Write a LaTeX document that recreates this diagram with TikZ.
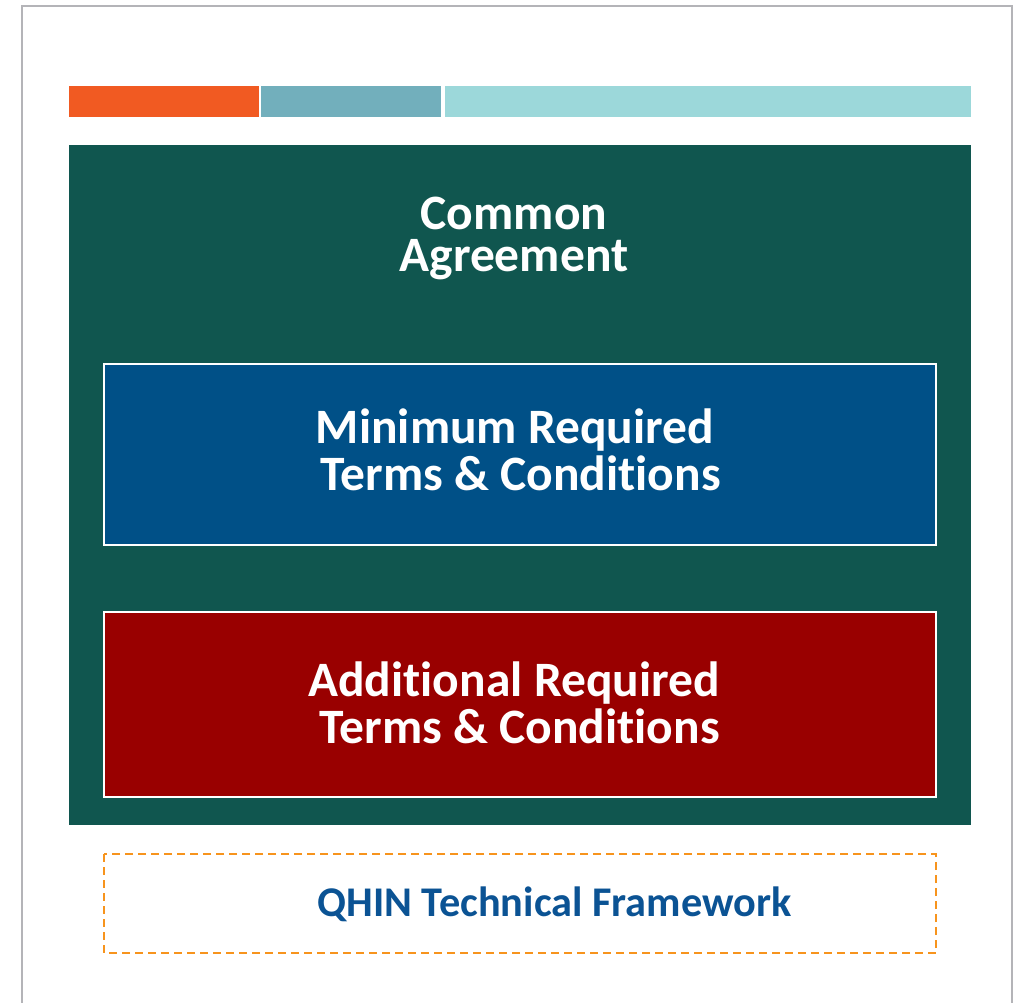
\documentclass[tikz,border=0pt]{standalone}
\usepackage{fontspec}
\setmainfont{Carlito}[Ligatures=NoCommon]
\definecolor{frame}{HTML}{B4B4B8}
\definecolor{bgreen}{HTML}{10564F}
\definecolor{bblue}{HTML}{005087}
\definecolor{bred}{HTML}{990000}
\definecolor{borange}{HTML}{F15A22}
\definecolor{bteal}{HTML}{72AFBC}
\definecolor{bcyan}{HTML}{9CD8DA}
\definecolor{dorange}{HTML}{F7941D}
\definecolor{qblue}{HTML}{0B5394}
\begin{document}
\begin{tikzpicture}[x=1pt,y=-1pt,
  inbox/.style={draw=white, line width=2pt},
  wtext/.style={text=white, font=\fontsize{49.5}{47}\selectfont\bfseries, align=center, inner sep=0pt},
]
\useasboundingbox (0,0) rectangle (1017,1003);
\fill[white] (0,0) rectangle (1017,1003);
\draw[frame, line width=2.5pt] (22,1003) -- (22,6) -- (1012,6) -- (1012,1003);
% top bars
\fill[borange] (69,86) rectangle (259,117);
\fill[bteal] (261,86) rectangle (441,117);
\fill[bcyan] (445,86) rectangle (971,117);
% green container
\fill[bgreen] (69,145) rectangle (971,825);
\node[wtext, font=\fontsize{49.5}{41.5}\selectfont\bfseries] (ca) at (514,238.5) {Common\\Agreement};
% blue box
\draw[inbox, fill=bblue] (104,364) rectangle (936,545);
\node[wtext] (min) at (515,450) {Minimum Required\\\ Terms \& Conditions};
% red box
\draw[inbox, fill=bred] (104,612) rectangle (936,797);
\node[wtext] (add) at (514,703) {Additional Required\\\ Terms \& Conditions};
% dashed box
\draw[dorange, line width=2pt, dash pattern=on 8pt off 5pt] (104,854) rectangle (936,953);
\node[text=qblue, font=\fontsize{42.3}{48}\selectfont\bfseries, inner sep=0pt] (qhin) at (554.5,904.5) {QHIN Technical Framework};
\end{tikzpicture}
\end{document}
